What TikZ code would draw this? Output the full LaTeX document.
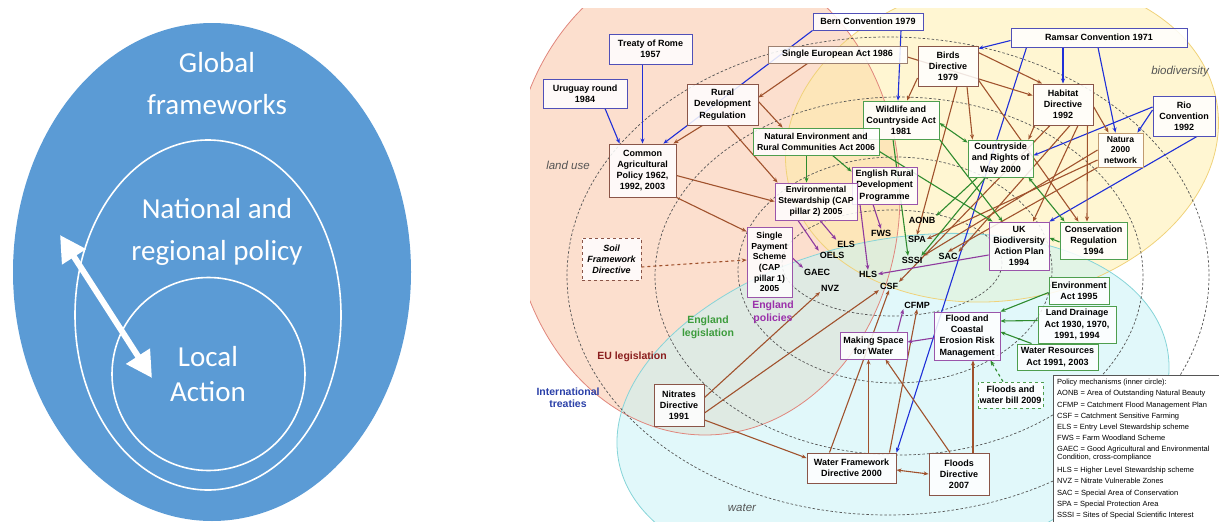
\documentclass[tikz,border=0pt]{standalone}
\usepackage{fontspec}
\setmainfont{Liberation Sans}
\newfontfamily\calfont{Carlito}
\usetikzlibrary{arrows.meta,calc}
\pgfdeclarelayer{back}
\pgfdeclarelayer{lines}
\pgfsetlayers{back,lines,main}
\definecolor{lblue}{HTML}{5B9BD5}
\definecolor{peachF}{RGB}{249,196,165}
\definecolor{peachB}{HTML}{E0867C}
\definecolor{yelF}{RGB}{255,238,165}
\definecolor{yelB}{HTML}{F0D27A}
\definecolor{cyaF}{RGB}{200,243,246}
\definecolor{cyaB}{HTML}{86D4D8}
\definecolor{lnblue}{HTML}{1F2FD8}
\definecolor{lnbrown}{HTML}{A0522D}
\definecolor{lngreen}{HTML}{2E8B2E}
\definecolor{lnpurple}{HTML}{8E3A9E}
\definecolor{bxblue}{HTML}{5050B8}
\definecolor{bxbrown}{HTML}{8A5548}
\definecolor{bxgreen}{HTML}{4E9E4E}
\definecolor{bxpurple}{HTML}{9A55AA}
\definecolor{bxtan}{HTML}{C09A70}
\definecolor{bxgray}{HTML}{9C8070}
\definecolor{itblue}{HTML}{2A40A8}
\definecolor{eured}{HTML}{8A1E1E}
\definecolor{enggreen}{HTML}{3C9C3C}
\definecolor{polpurple}{HTML}{9A30AA}
\definecolor{topicgray}{HTML}{555555}
\definecolor{dashgray}{HTML}{555555}
\definecolor{legb}{HTML}{555555}
\newcommand\mkbox[7]{\node[#6, minimum width={(#4-#2)*1pt}, minimum height={(#5-#3)*1pt}] (#1) at ({(#2+#4)/2},{(#3+#5)/2}) {#7};}
\tikzset{
  bx/.style={draw, fill=white, fill opacity=0.85, text opacity=1, line width=0.9pt, inner sep=0pt, align=center, font=\fontsize{9}{11.2}\selectfont\bfseries},
  intb/.style={bx, draw=bxblue},
  eub/.style={bx, draw=bxbrown},
  engb/.style={bx, draw=bxgreen},
  polb/.style={bx, draw=bxpurple},
  mech/.style={inner sep=0.8pt, font=\fontsize{9}{10}\selectfont\bfseries},
  arr/.style={-{Stealth[length=5pt,width=4pt]}},
  arrs/.style={{Stealth[length=5pt,width=4pt]}-{Stealth[length=5pt,width=4pt]}},
  lb/.style={line width=1.1pt, draw=lnblue},
  lr/.style={line width=1.1pt, draw=lnbrown},
  lg/.style={line width=1.1pt, draw=lngreen},
  lp/.style={line width=1.1pt, draw=lnpurple},
  dring/.style={draw=dashgray, line width=0.7pt, dash pattern=on 2.5pt off 2pt},
  reg/.style={font=\fontsize{10.5}{12}\selectfont\bfseries, align=center, inner sep=0pt},
  topic/.style={font=\fontsize{11.5}{13}\selectfont\itshape, text=topicgray, inner sep=0pt},
  wtxt/.style={text=white, font=\calfont\fontsize{29}{42}\selectfont, align=center, inner sep=0pt},
}
\begin{document}
\begin{tikzpicture}[x=1pt,y=-1pt]
\useasboundingbox (0,0) rectangle (1219,522);
% ---------------- left panel
\fill[lblue] (212,272) ellipse [x radius=199pt, y radius=249pt];
\draw[white, line width=1.6pt] (208,315) ellipse [x radius=133pt, y radius=175pt];
\draw[white, line width=1.6pt] (208.5,374) circle [radius=96.5pt];
\node[wtxt] (glob) at (217,84) {Global\\frameworks};
\node[wtxt] (natl) at (217,232) {National and\\regional policy};
\node[wtxt, font=\calfont\fontsize{29}{35}\selectfont] (locl) at (208,374.5) {Local\\Action};
\coordinate (atop) at (60,235);
\coordinate (abot) at (152,378);
\draw[white, line width=6pt, {Triangle[length=26pt,width=27pt]}-{Triangle[length=26pt,width=27pt]}] (atop) -- (abot);
% ---------------- right panel background
\begin{pgfonlayer}{back}
\begin{scope}
\clip (530,8) rectangle (1219,522);
\fill[peachF, fill opacity=.55] (705,195) ellipse [x radius=195pt, y radius=240pt];
\fill[yelF, fill opacity=.5, rotate around={10:(1002,140)}] (1002,140) ellipse [x radius=218pt, y radius=160pt];
\fill[cyaF, fill opacity=.55, rotate around={12:(893,405)}] (893,405) ellipse [x radius=280pt, y radius=165pt];
\draw[peachB, line width=.8pt] (705,195) ellipse [x radius=195pt, y radius=240pt];
\draw[yelB, line width=.8pt, rotate around={10:(1002,140)}] (1002,140) ellipse [x radius=218pt, y radius=160pt];
\draw[cyaB, line width=.8pt, rotate around={12:(893,405)}] (893,405) ellipse [x radius=280pt, y radius=165pt];
\draw[dring] (888,276) ellipse [x radius=321pt, y radius=239pt];
\draw[dring] (899,276) ellipse [x radius=244pt, y radius=179pt];
\draw[dring] (895,270) ellipse [x radius=157pt, y radius=113pt];
\draw[dring] (892,263) ellipse [x radius=110pt, y radius=53pt];
\end{scope}
\end{pgfonlayer}
% region labels
\node[reg, text=itblue] (lintl) at (568,398) {International\\treaties};
\node[reg, text=eured] (leu) at (632,357) {EU legislation};
\node[reg, text=enggreen, font=\fontsize{10.5}{13}\selectfont\bfseries] (leng) at (708,327) {England\\legislation};
\node[reg, text=polpurple, font=\fontsize{10.5}{13}\selectfont\bfseries] (lpol) at (773,312) {England\\policies};
\node[topic] (tland) at (568,165) {land use};
\node[topic] (tbio) at (1180,72) {biodiversity};
\node[topic] (twat) at (742,508) {water};
% ---------------- boxes
\mkbox{tor}{609}{34}{692}{64}{intb}{Treaty of Rome\\1957}
\mkbox{uru}{543}{79}{627}{108}{intb}{Uruguay round\\1984}
\mkbox{bern}{813}{13}{923}{30}{intb}{Bern Convention 1979}
\mkbox{sea}{768}{46}{907}{63}{bx,draw=bxgray}{Single European Act 1986}
\mkbox{ramsar}{1011}{28}{1187}{47}{intb}{Ramsar Convention 1971}
\mkbox{birds}{918}{46}{978}{86}{eub}{Birds\\Directive\\1979}
\mkbox{rdr}{687}{84}{758}{125}{eub}{Rural\\Development\\Regulation}
\mkbox{habitat}{1033}{84}{1093}{125}{eub}{Habitat\\Directive\\1992}
\mkbox{rio}{1153}{96}{1215}{136}{intb}{Rio\\Convention\\1992}
\mkbox{wca}{863}{101}{939}{139}{engb}{Wildlife and\\Countryside Act\\1981}
\mkbox{nerc}{753}{128}{879}{155}{engb,font=\fontsize{8.7}{11}\selectfont\bfseries}{Natural Environment and\\Rural Communities Act 2006}
\mkbox{natura}{1098}{133}{1143}{167}{bx,draw=bxtan,font=\fontsize{8.6}{10.6}\selectfont\bfseries}{Natura\\2000\\network}
\mkbox{crow}{968}{140}{1033}{177}{engb}{Countryside\\and Rights of\\Way 2000}
\mkbox{cap}{609}{144}{676}{197}{eub}{Common\\Agricultural\\Policy 1962,\\1992, 2003}
\mkbox{erdp}{852}{167}{917}{204}{polb}{English Rural\\Development\\Programme}
\mkbox{es}{775}{183}{857}{220}{polb,font=\fontsize{8.7}{11}\selectfont\bfseries}{Environmental\\Stewardship (CAP\\pillar 2) 2005}
\mkbox{sps}{747}{227}{792}{297}{polb,font=\fontsize{8.7}{10.6}\selectfont\bfseries}{Single\\Payment\\Scheme\\(CAP\\pillar 1)\\2005}
\mkbox{soil}{582}{238}{641}{280}{bx,draw=bxbrown,dashed,font=\fontsize{9}{11.2}\selectfont\bfseries\itshape}{Soil\\Framework\\Directive}
\mkbox{ukbap}{989}{222}{1049}{270}{polb}{UK\\Biodiversity\\Action Plan\\1994}
\mkbox{consreg}{1060}{222}{1127}{259}{engb}{Conservation\\Regulation\\1994}
\mkbox{envact}{1049}{277}{1109}{304}{engb}{Environment\\Act 1995}
\mkbox{landdr}{1038}{306}{1116}{343}{engb}{Land Drainage\\Act 1930, 1970,\\1991, 1994}
\mkbox{watres}{1017}{344}{1098}{370}{engb}{Water Resources\\Act 1991, 2003}
\mkbox{fcerm}{934}{312}{1000}{360}{polb}{Flood and\\Coastal\\Erosion Risk\\Management}
\mkbox{msw}{840}{332}{907}{359}{polb}{Making Space\\for Water}
\mkbox{fwb}{978}{382}{1043}{408}{bx,draw=bxgreen,dashed}{Floods and\\water bill 2009}
\mkbox{nitr}{654}{384}{704}{426}{eub}{Nitrates\\Directive\\1991}
\mkbox{wfd}{807}{453}{896}{483}{eub}{Water Framework\\Directive 2000}
\mkbox{fd}{929}{453}{989}{495}{eub}{Floods\\Directive\\2007}
% mechanisms
\node[mech] (aonb) at (922,220) {AONB};
\node[mech] (fws) at (881,233) {FWS};
\node[mech] (spa) at (917,239) {SPA};
\node[mech] (els) at (846,244) {ELS};
\node[mech] (oels) at (832,255) {OELS};
\node[mech] (sssi) at (912,260) {SSSI};
\node[mech] (sac) at (948,256) {SAC};
\node[mech] (gaec) at (817,272) {GAEC};
\node[mech] (hls) at (868,274) {HLS};
\node[mech] (nvz) at (830,288) {NVZ};
\node[mech] (csf) at (889,286) {CSF};
\node[mech] (cfmp) at (917,305) {CFMP};
% legend
\node[draw=legb, fill=white, line width=.8pt, anchor=north west, minimum width=175pt, minimum height=160pt, inner sep=0pt] (legbox) at (1053,375) {};
\node[anchor=north west, inner sep=0pt, align=left, font=\fontsize{7.5}{11.2}\selectfont] (legtxt) at (1057,379) {Policy mechanisms (inner circle):\\
AONB = Area of Outstanding Natural Beauty\\
CFMP = Catchment Flood Management Plan\\
CSF = Catchment Sensitive Farming\\
ELS = Entry Level Stewardship scheme\\
FWS = Farm Woodland Scheme\\
GAEC = Good Agricultural and Environmental\\[-3.1pt]
Condition, cross-compliance\\[1.6pt]
HLS = Higher Level Stewardship scheme\\
NVZ = Nitrate Vulnerable Zones\\
SAC = Special Area of Conservation\\
SPA = Special Protection Area\\
SSSI = Sites of Special Scientific Interest};
% ---------------- connectors
\begin{pgfonlayer}{lines}
% international (blue)
\draw[lb,arr] (tor.south -| cap.north) -- (cap.north);
\draw[lb,arr] ([xshift=20pt]uru.south) -- ([xshift=11pt]cap.north west);
\draw[lb,arr] (bern.south west) -- ([xshift=-13pt]cap.north east);
\draw[lb,arr] ([xshift=33pt]bern.south) -- ([xshift=-3pt]wca.north);
\draw[lb,arr] ([yshift=-3pt]ramsar.west) -- ([yshift=-3pt]birds.north east);
\draw[lb,arr] (habitat.north |- ramsar.south) -- (habitat.north);
\draw[lb,arr] ([xshift=-1pt]ramsar.south) -- ([xshift=-5pt]natura.north);
\draw[lb,arr] ([xshift=16pt]ramsar.south west) -- (wfd.north east);
\draw[lb,arr] ([yshift=9pt]rio.west) -- ([yshift=3pt]crow.east);
\draw[lb,arr] ([yshift=6pt]rio.west) -- ([xshift=-6pt]natura.north east);
\draw[lb,arr] ([xshift=13pt]rio.south) -- (ukbap.north east);
% EU (brown)
\draw[lr,arr] ([xshift=40pt]sea.south west) -- ([yshift=7pt]rdr.east);
\draw[lr,arr] ([xshift=-20pt]rdr.south) -- ([xshift=-3pt]cap.north east);
\draw[lr,arr] ([yshift=3pt]rdr.east) -- ([xshift=30pt]nerc.north west);
\draw[lr,arr] ([xshift=5pt]rdr.south) -- ([xshift=3pt]es.north west);
\draw[lr,arr] ([yshift=-5pt]cap.east) -- (es.west);
\draw[lr,arr] (cap.south east) -- ([yshift=-5pt]sps.north west);
\draw[lr,arr,dashed] ([yshift=-8pt]soil.east) -- ([yshift=2pt]sps.west);
\draw[lr,arr] ([yshift=-12pt]birds.west) -- ([xshift=6pt]wca.north);
\draw[lr,arr] ([yshift=-7pt]birds.north east) -- ([xshift=-21pt]habitat.north);
\draw[lr,arr] ([yshift=-2.5pt]sea.east) -- ([yshift=9pt]habitat.west);
\draw[lr,arr] ([xshift=19pt]birds.south) -- ([xshift=-28pt]crow.north);
\draw[lr,arr] ([xshift=9pt]birds.south) -- (spa.north);
\draw[lr,arr] ([yshift=-14pt]birds.east) -- ([xshift=-15pt]consreg.north);
\draw[lr,arr] ([xshift=-6pt]habitat.south east) -- ([xshift=-6.5pt]consreg.north);
\draw[lr,arr] ([yshift=-2pt]habitat.east) -- ([xshift=-12pt]natura.north);
\draw[lr,arr] ([xshift=2pt]habitat.south west) -- ([xshift=-5pt]crow.north east);
\draw[lr,arr] ([xshift=15pt]habitat.south) -- ([xshift=14pt]ukbap.north);
\draw[lr,arr] ([xshift=7pt]habitat.south) -- (sac.north east);
\draw[lr,arr] ([xshift=-13pt]habitat.south) -- (csf.north east);
\draw[lr,arr] ([yshift=-10pt]natura.west) -- (spa.east);
\draw[lr,arr] (natura.south west) -- (sac.north);
\draw[lr,arr] (natura.west) -- (sssi.north east);
\draw[lr,arr] ([yshift=-14pt]nitr.north east) -- (nvz.south west);
\draw[lr,arr] ([yshift=-8pt]nitr.east) -- (csf.south west);
\draw[lr,arr] ([yshift=-15pt]nitr.east) -- ([yshift=10pt]wfd.west);
\draw[lr,arr] ([xshift=-22pt]wfd.north) -- (csf.south);
\draw[lr,arr] ([xshift=17pt]wfd.north) -- ([xshift=-5pt]msw.south);
\draw[lr,arr] ([xshift=38pt]wfd.north) -- (cfmp.south);
\draw[lr,arr] ([xshift=-9pt]fd.north) -- ([xshift=12pt]msw.south);
\draw[lr,arr] ([xshift=14pt]fd.north) -- ([xshift=6pt]fcerm.south);
\draw[lr,arrs] ([yshift=-2pt]wfd.east) -- (fd.west);
% England legislation (green)
\draw[lg,arr] ([xshift=80pt]nerc.south west) -- ([yshift=-5pt]erdp.north west);
\draw[lg,arr] ([xshift=54pt]nerc.south west) -- ([xshift=32pt]es.north west);
\draw[lg,arr] ([yshift=-10pt]nerc.east) -- ([xshift=4pt]ukbap.north west);
\draw[lg,arr] ([xshift=-8pt]wca.south) -- ([xshift=-4pt]sssi.north);
\draw[lg,arrs] ([yshift=-3pt]wca.east) -- ([yshift=-3pt]crow.north west);
\draw[lg,arr] (wca.south east) -- ([xshift=14pt]ukbap.north west);
\draw[lg,arr] ([xshift=-23pt]crow.south) -- (aonb.north east);
\draw[lg,arr] ([xshift=-15pt]crow.south) -- ([xshift=-2pt]sssi.north east);
\draw[lg,arrs] ([xshift=-5pt]crow.south east) -- ([xshift=5pt]consreg.north west);
\draw[lg,arr] ([yshift=-1.5pt]consreg.west) -- ([yshift=8pt]ukbap.east);
\draw[lg,arr] ([yshift=-2pt]envact.west) -- (fcerm.north east);
\draw[lg,arr] ([yshift=4pt]landdr.west) -- ([yshift=15pt]fcerm.east);
\draw[lg,arr] ([xshift=15pt]watres.north west) -- ([yshift=4pt]fcerm.east);
\draw[lg,arr,dashed] ([xshift=-7.5pt]fwb.north) -- ([xshift=-10pt]fcerm.south east);
% England policies (purple)
\draw[lp,arr] ([xshift=-11.5pt]erdp.south) -- (fws.north);
\draw[lp,arr] ([xshift=-24.5pt]erdp.south) -- (hls.north);
\draw[lp,arr] ([xshift=4pt]es.south) -- (els.north west);
\draw[lp,arr] ([xshift=-18pt]es.south) -- (oels.north west);
\draw[lp,arr] ([yshift=4pt]sps.east) -- (gaec.north west);
\draw[lp,arr] ([yshift=-9pt]ukbap.west) -- (hls.east);
\draw[lp,arr] ([yshift=-2pt]fcerm.west) -- ([yshift=3.5pt]msw.east);
\draw[lp,arr] ([xshift=24pt]msw.north) -- (cfmp.south west);
\end{pgfonlayer}
\end{tikzpicture}
\end{document}
